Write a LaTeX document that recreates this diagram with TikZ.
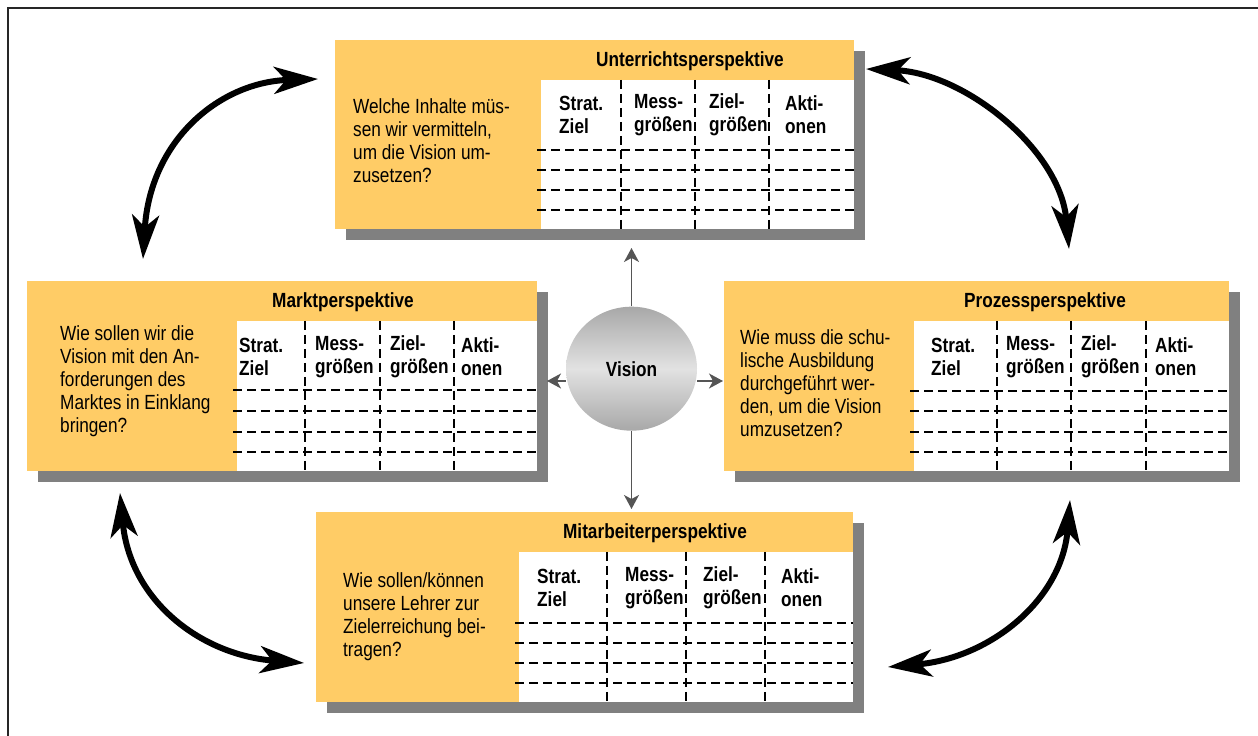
\documentclass[tikz,border=0pt]{standalone}
\usepackage{fontspec}
\setmainfont{Liberation Sans}[FakeStretch=0.84]
\usetikzlibrary{arrows.meta,shapes.geometric,shadows}
\definecolor{orangebox}{HTML}{FFCC66}
\definecolor{schatten}{HTML}{808080}
\definecolor{pfeilgrau}{HTML}{555555}
\definecolor{visionrand}{HTML}{A8A8A8}
\definecolor{visionmitte}{HTML}{E2E2E2}

\begin{document}
\begin{tikzpicture}[x=1pt,y=1pt,
    box/.style={fill=orangebox, inner sep=0pt, anchor=north west,
        drop shadow={shadow xshift=11pt, shadow yshift=-11pt, fill=schatten, opacity=1}},
    tabelle/.style={fill=white},
    trenner/.style={line width=1.6pt, dash pattern=on 9pt off 5pt},
    txt/.style={font=\fontsize{20.5}{23}\selectfont, align=left, inner sep=0pt},
    kopf/.style={txt, font=\fontsize{20.5}{23}\selectfont\bfseries},
    vision/.style={ellipse, minimum width=131pt, minimum height=124pt, inner sep=0pt,
        top color=visionrand, bottom color=visionrand, middle color=visionmitte,
        font=\fontsize{20.5}{23}\selectfont\bfseries},
    pfeil/.style={draw=pfeilgrau, line width=1.5pt, -{Stealth[length=14pt,width=15pt,inset=4pt]}},
    bogen/.style={line width=6pt,
        {Stealth[length=44pt,width=27pt,inset=12pt]}-{Stealth[length=44pt,width=27pt,inset=12pt]}}]
    \useasboundingbox (0,0) rectangle (1258,736);

    % Rahmen
    \draw[line width=2pt, black!85] (8,0) -- (8,728) -- (1258,728);

%Unterrichtsperspektive
    \node[box, minimum width=519pt, minimum height=189pt] (unterricht) at (335,696) {};
    \fill[tabelle] (541,656) rectangle (854,507);
    \draw[trenner] (621,656) -- (621,507);
    \draw[trenner] (695,656) -- (695,507);
    \draw[trenner] (769,656) -- (769,507);
    \draw[trenner] (537,586) -- (854,586);
    \draw[trenner] (537,566) -- (854,566);
    \draw[trenner] (537,546) -- (854,546);
    \draw[trenner] (537,526) -- (854,526);
    \node[kopf] (unterrichttitel) at (690,675) {Unterrichtsperspektive};
    \node[kopf, anchor=west] (unterrichtstrat) at (559,621) {Strat.\\Ziel};
    \node[kopf, anchor=west] (unterrichtmess) at (634,621) {Mess-\\größen};
    \node[kopf, anchor=west] (unterrichtziel) at (709,621) {Ziel-\\größen};
    \node[kopf, anchor=west] (unterrichtakti) at (785,621) {Akti-\\onen};
    \node[txt, anchor=west] (unterrichtfrage) at (353,595) {Welche Inhalte müs-\\sen wir vermitteln,\\um die Vision um-\\zusetzen?};

%Marktperspektive
    \node[box, minimum width=510pt, minimum height=190pt] (markt) at (27,455) {};
    \fill[tabelle] (237,415) rectangle (537,265);
    \draw[trenner] (305,415) -- (305,265);
    \draw[trenner] (380,415) -- (380,265);
    \draw[trenner] (454,415) -- (454,265);
    \draw[trenner] (233,346) -- (537,346);
    \draw[trenner] (233,325) -- (537,325);
    \draw[trenner] (233,304) -- (537,304);
    \draw[trenner] (233,284) -- (537,284);
    \node[kopf] (markttitel) at (343,434) {Marktperspektive};
    \node[kopf, anchor=west] (marktstrat) at (239,379) {Strat.\\Ziel};
    \node[kopf, anchor=west] (marktmess) at (315,379) {Mess-\\größen};
    \node[kopf, anchor=west] (marktziel) at (390,379) {Ziel-\\größen};
    \node[kopf, anchor=west] (marktakti) at (461,379) {Akti-\\onen};
    \node[txt, anchor=west] (marktfrage) at (60,355) {Wie sollen wir die\\Vision mit den An-\\forderungen des\\Marktes in Einklang\\bringen?};

%Prozessperspektive
    \node[box, minimum width=505pt, minimum height=190pt] (prozess) at (724,455) {};
    \fill[tabelle] (914,415) rectangle (1229,265);
    \draw[trenner] (997,415) -- (997,265);
    \draw[trenner] (1071,415) -- (1071,265);
    \draw[trenner] (1146,415) -- (1146,265);
    \draw[trenner] (910,345) -- (1229,345);
    \draw[trenner] (910,325) -- (1229,325);
    \draw[trenner] (910,304) -- (1229,304);
    \draw[trenner] (910,284) -- (1229,284);
    \node[kopf] (prozesstitel) at (1045,434) {Prozessperspektive};
    \node[kopf, anchor=west] (prozessstrat) at (931,379) {Strat.\\Ziel};
    \node[kopf, anchor=west] (prozessmess) at (1006,379) {Mess-\\größen};
    \node[kopf, anchor=west] (prozessziel) at (1081,379) {Ziel-\\größen};
    \node[kopf, anchor=west] (prozessakti) at (1155,379) {Akti-\\onen};
    \node[txt, anchor=west] (prozessfrage) at (740,353) {Wie muss die schu-\\lische Ausbildung\\durchgeführt wer-\\den, um die Vision\\umzusetzen?};

%Mitarbeiterperspektive
    \node[box, minimum width=537pt, minimum height=190pt] (mitarbeiter) at (316,224) {};
    \fill[tabelle] (519,184) rectangle (853,34);
    \draw[trenner] (607,184) -- (607,34);
    \draw[trenner] (686,184) -- (686,34);
    \draw[trenner] (765,184) -- (765,34);
    \draw[trenner] (515,113) -- (853,113);
    \draw[trenner] (515,93) -- (853,93);
    \draw[trenner] (515,73) -- (853,73);
    \draw[trenner] (515,53) -- (853,53);
    \node[kopf] (mitarbeitertitel) at (655,203) {Mitarbeiterperspektive};
    \node[kopf, anchor=west] (mitarbeiterstrat) at (537,148) {Strat.\\Ziel};
    \node[kopf, anchor=west] (mitarbeitermess) at (625,148) {Mess-\\größen};
    \node[kopf, anchor=west] (mitarbeiterziel) at (703,148) {Ziel-\\größen};
    \node[kopf, anchor=west] (mitarbeiterakti) at (781,148) {Akti-\\onen};
    \node[txt, anchor=west] (mitarbeiterfrage) at (343,119) {Wie sollen/können\\unsere Lehrer zur\\Zielerreichung bei-\\tragen?};

    % Vision in der Mitte
    \node[vision] (vision) at (631.5,367.3) {Vision};
    \coordinate (zieloben) at (631.5,488);
    \coordinate (zielunten) at (631.5,227);
    \coordinate (ziellinks) at (547,355);
    \coordinate (zielrechts) at (723,355);
    \draw[pfeil] (vision) -- (zieloben);
    \draw[pfeil] (vision) -- (zielunten);
    \draw[pfeil] (vision.west |- ziellinks) -- (ziellinks);
    \draw[pfeil] (vision.east |- zielrechts) -- (zielrechts);

    % Boegen zwischen den Perspektiven
    \coordinate (marktoben) at (143,477);
    \coordinate (unterrichtlinks) at (318,657);
    \coordinate (unterrichtrechts) at (866,667);
    \coordinate (prozessoben) at (1069,487);
    \coordinate (marktunten) at (120,243);
    \coordinate (mitarbeiterlinks) at (304,73);
    \coordinate (mitarbeiterrechts) at (888,69);
    \coordinate (prozessunten) at (1070,236);
    \draw[bogen] (marktoben) .. controls (150,596) and (220,654) .. (unterrichtlinks);
    \draw[bogen] (unterrichtrechts) .. controls (965,663) and (1060,586) .. (prozessoben);
    \draw[bogen] (marktunten) .. controls (130,136) and (200,81) .. (mitarbeiterlinks);
    \draw[bogen] (mitarbeiterrechts) .. controls (990,78) and (1062,136) .. (prozessunten);
\end{tikzpicture}
\end{document}
